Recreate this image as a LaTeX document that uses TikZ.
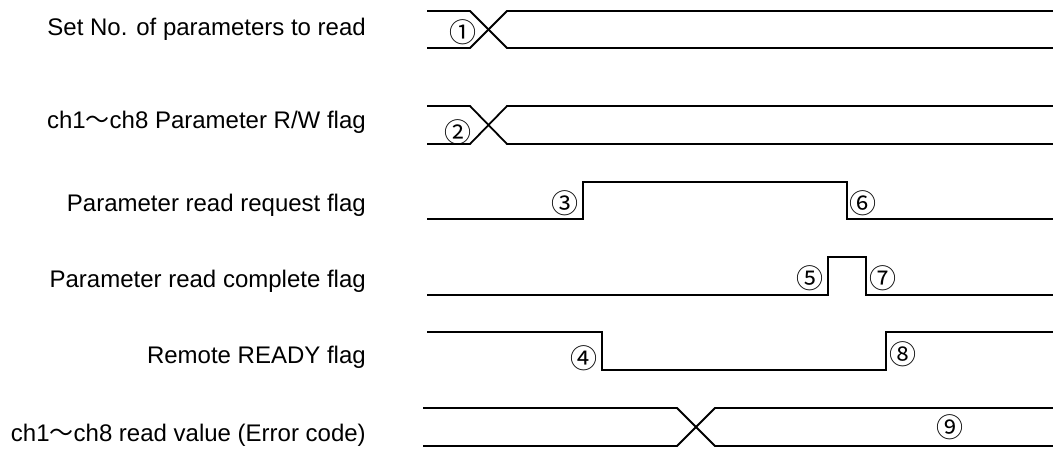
\documentclass[tikz,border=0pt]{standalone}
\usepackage{fontspec}
\setmainfont{Liberation Sans}
\newfontfamily\cjk{Noto Sans CJK JP}
\begin{document}
\begin{tikzpicture}[x=1pt,y=-1pt,
  sig/.style={line width=1.8pt,line join=miter},
  lbl/.style={anchor=base east,inner sep=0pt,font=\fontsize{24}{28}\selectfont},
  num/.style={inner sep=0pt,font=\cjk\fontsize{27}{30}\selectfont}]
\useasboundingbox (0,0) rectangle (1053,450);
\newcommand{\wave}{{\cjk ～}}

% signal names
\node[lbl] (l1) at (366,35)  {Set No. of parameters to read};
\node[lbl] (l2) at (366,128) {ch1\wave ch8 Parameter R/W flag};
\node[lbl] (l3) at (366,211) {Parameter read request flag};
\node[lbl] (l4) at (366,287) {Parameter read complete flag};
\node[lbl] (l5) at (366,363) {Remote READY flag};
\node[lbl] (l6) at (366,441) {ch1\wave ch8 read value (Error code)};

% set No. of parameters (bus)
\draw[sig] (427,11) -- (470,11) -- (507,48) -- (1053,48);
\draw[sig] (427,48) -- (470,48) -- (507,11) -- (1053,11);
% R/W flag (bus)
\draw[sig] (427,106) -- (470,106) -- (507,144) -- (1053,144);
\draw[sig] (427,144) -- (470,144) -- (507,106) -- (1053,106);
% read request
\draw[sig] (427,219) -- (583,219) -- (583,182) -- (847,182) -- (847,219) -- (1053,219);
% read complete
\draw[sig] (427,295) -- (828,295) -- (828,257) -- (866,257) -- (866,295) -- (1053,295);
% remote READY
\draw[sig] (427,332) -- (602,332) -- (602,370) -- (886,370) -- (886,332) -- (1053,332);
% read value (bus)
\draw[sig] (423,408) -- (677,408) -- (715,446) -- (1053,446);
\draw[sig] (423,446) -- (677,446) -- (715,408) -- (1053,408);

% sequence markers
\node[num] (n1) at (463,32)  {①};
\node[num] (n2) at (458,132) {②};
\node[num] (n3) at (565,203) {③};
\node[num] (n4) at (584,358) {④};
\node[num] (n5) at (810,278) {⑤};
\node[num] (n6) at (863,203) {⑥};
\node[num] (n7) at (883,278) {⑦};
\node[num] (n8) at (903,354) {⑧};
\node[num] (n9) at (950,427) {⑨};
\end{tikzpicture}
\end{document}
